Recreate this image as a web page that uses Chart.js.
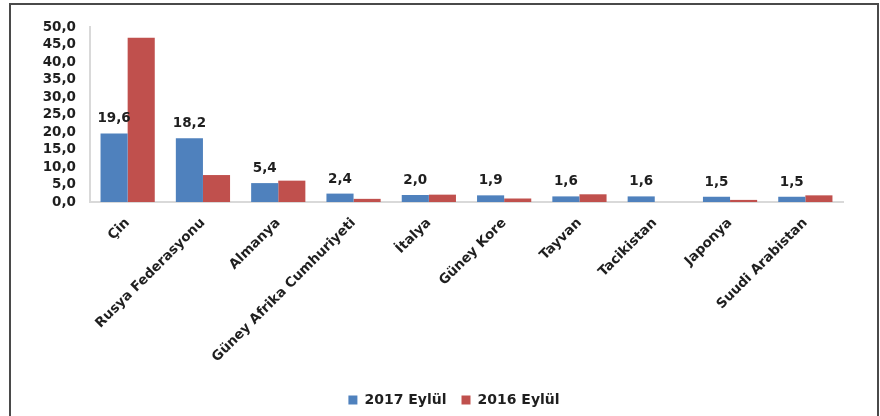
<!DOCTYPE html>
<html>
<head>
<meta charset="utf-8">
<script src="https://cdn.jsdelivr.net/npm/chart.js@4/dist/chart.umd.min.js"></script>
<style>
  html, body { margin: 0; padding: 0; background: #fff; overflow: hidden; }
  #wrap { position: relative; width: 880px; height: 416px; }
  #frame {
    position: absolute; left: 9px; top: 3px; width: 866px; height: 440px;
    border: 2px solid #4a4a4a; pointer-events: none;
  }
  canvas { position: absolute; left: 0; top: 0; }
</style>
</head>
<body>
<div id="wrap">
  <canvas id="c" width="880" height="416"></canvas>
  <div id="frame"></div>
</div>
<script>
// Ülkeler ve iki dönemin değerleri
const categories = [
  'Çin', 'Rusya Federasyonu', 'Almanya', 'Güney Afrika Cumhuriyeti', 'İtalya',
  'Güney Kore', 'Tayvan', 'Tacikistan', 'Japonya', 'Suudi Arabistan'
];
const values2017 = [19.6, 18.2, 5.4, 2.4, 2.0, 1.9, 1.6, 1.6, 1.5, 1.5];
const values2016 = [46.9, 7.7, 6.1, 0.9, 2.1, 1.0, 2.2, 0, 0.6, 1.9];
const seriesNames = ['2017 Eylül', '2016 Eylül'];
const yTicks = [0, 5, 10, 15, 20, 25, 30, 35, 40, 45, 50];

const FONT = 'DejaVu Sans';
const fmt = v => v.toFixed(1).replace('.', ',');

// 2017 çubuklarının üstüne değer yazar
const valueLabels = {
  id: 'valueLabels',
  afterDatasetsDraw(chart) {
    const ctx = chart.ctx;
    const meta = chart.getDatasetMeta(0);
    ctx.save();
    ctx.font = 'bold 13.5px "' + FONT + '"';
    ctx.fillStyle = '#1f1f1f';
    ctx.textAlign = 'center';
    ctx.textBaseline = 'alphabetic';
    meta.data.forEach((bar, i) => {
      ctx.fillText(fmt(values2017[i]), bar.x, bar.y - 11);
    });
    ctx.restore();
  }
};

new Chart(document.getElementById('c'), {
  type: 'bar',
  data: {
    labels: categories,
    datasets: [
      { label: seriesNames[0], data: values2017, backgroundColor: '#4f81bd' },
      { label: seriesNames[1], data: values2016, backgroundColor: '#c0504d' }
    ]
  },
  options: {
    responsive: false,
    animation: false,
    datasets: { bar: { categoryPercentage: 0.72, barPercentage: 1.0 } },
    layout: { padding: { top: 27, right: 0, bottom: -1, left: 28 } },
    plugins: {
      tooltip: { enabled: false },
      legend: {
        position: 'bottom',
        labels: {
          font: { family: FONT, size: 14, weight: 'bold' },
          color: '#1f1f1f',
          boxWidth: 9,
          boxHeight: 9,
          padding: 15
        }
      }
    },
    scales: {
      x: {
        grid: { display: false, drawTicks: false },
        border: { display: true, color: '#d9d9d9', width: 2 },
        ticks: {
          font: { family: FONT, size: 13.5, weight: 'bold' },
          color: '#1f1f1f',
          minRotation: 45,
          maxRotation: 45,
          autoSkip: false,
          padding: 13
        },
        afterFit(scale) { scale.height = 176; }
      },
      y: {
        min: 0,
        max: 50,
        afterBuildTicks(scale) { scale.ticks = yTicks.map(v => ({ value: v })); },
        grid: { display: false, drawTicks: false },
        border: { display: true, color: '#d9d9d9', width: 2 },
        ticks: {
          font: { family: FONT, size: 13.5, weight: 'bold' },
          color: '#1f1f1f',
          padding: 14,
          autoSkip: false,
          callback: v => fmt(v)
        },
        afterFit(scale) { scale.width = 62; }
      },
      // boş sağ kenar boşluğu
      gap: {
        type: 'linear',
        position: 'right',
        grid: { display: false, drawTicks: false },
        border: { display: false },
        ticks: { display: false },
        afterFit(scale) { scale.width = 37; }
      }
    }
  },
  plugins: [valueLabels]
});
</script>
</body>
</html>
